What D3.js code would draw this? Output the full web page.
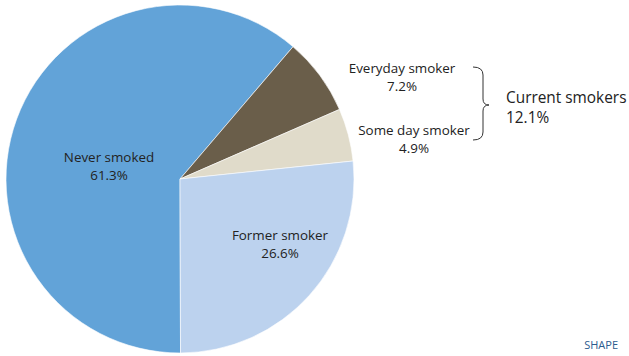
<!DOCTYPE html>
<html><head><meta charset="utf-8">
<script src="https://cdn.jsdelivr.net/npm/d3@7"></script>
<style>body{margin:0;background:#fff}svg{display:block}text{font-family:"Open Sans",sans-serif}</style>
</head><body>
<script>
const categories = ["Never smoked", "Everyday smoker", "Some day smoker", "Former smoker"];
const values = [61.3, 7.2, 4.9, 26.6];
const colors = ["#62a3d8", "#6a5e4a", "#e0dbca", "#bcd2ee"];
const groupLabel = "Current smokers";
const groupValue = 12.1;

const W = 629, H = 356;
const svg = d3.select("body").append("svg").attr("width", W).attr("height", H);
const cx = 180, cy = 179, R = 174;
const g = svg.append("g").attr("transform", `translate(${cx},${cy})`);
const data = categories.map((c, i) => ({c, v: values[i], col: colors[i]}));
const pie = d3.pie().value(d => d.v).sort(null).startAngle(-Math.PI - 0.003).endAngle(Math.PI - 0.003);
const arc = d3.arc().innerRadius(0).outerRadius(R);
const arcs = pie(data);
g.selectAll("path").data(arcs).enter().append("path")
  .attr("d", arc).attr("fill", d => d.data.col)
  .attr("stroke", "#fff").attr("stroke-width", 0.6);

const fmt = v => v.toFixed(1) + "%";
const tc = "#222";
const labelPos = [
  {x: 109, y: 162, s: 13.4},
  {x: 402, y: 73, s: 13.4},
  {x: 414, y: 135, s: 13.4},
  {x: 280, y: 240, s: 13.4}
];
arcs.forEach((a, i) => {
  const p = labelPos[i];
  const t = svg.append("text").attr("x", p.x).attr("y", p.y).attr("text-anchor", "middle")
    .attr("font-size", p.s).attr("fill", tc);
  t.append("tspan").attr("x", p.x).text(a.data.c);
  t.append("tspan").attr("x", p.x).attr("dy", 18).text(fmt(a.data.v));
});

// brace
const bx = 473, by0 = 67, by1 = 140, bm = 105, bw = 10;
svg.append("path")
  .attr("d", `M${bx},${by0} Q${bx+bw},${by0} ${bx+bw},${by0+8} L${bx+bw},${bm-6} Q${bx+bw},${bm} ${bx+bw+6},${bm} Q${bx+bw},${bm} ${bx+bw},${bm+6} L${bx+bw},${by1-8} Q${bx+bw},${by1} ${bx},${by1}`)
  .attr("fill", "none").attr("stroke", "#333").attr("stroke-width", 1);

const gt = svg.append("text").attr("x", 506).attr("y", 103).attr("font-size", 15.4).attr("fill", tc);
gt.append("tspan").attr("x", 506).text(groupLabel);
gt.append("tspan").attr("x", 506).attr("dy", 20).text(fmt(groupValue));

svg.append("text").attr("x", 618).attr("y", 349).attr("text-anchor", "end")
  .attr("font-size", 11).attr("fill", "#2d5c8f").text("SHAPE");
</script>
</body></html>
